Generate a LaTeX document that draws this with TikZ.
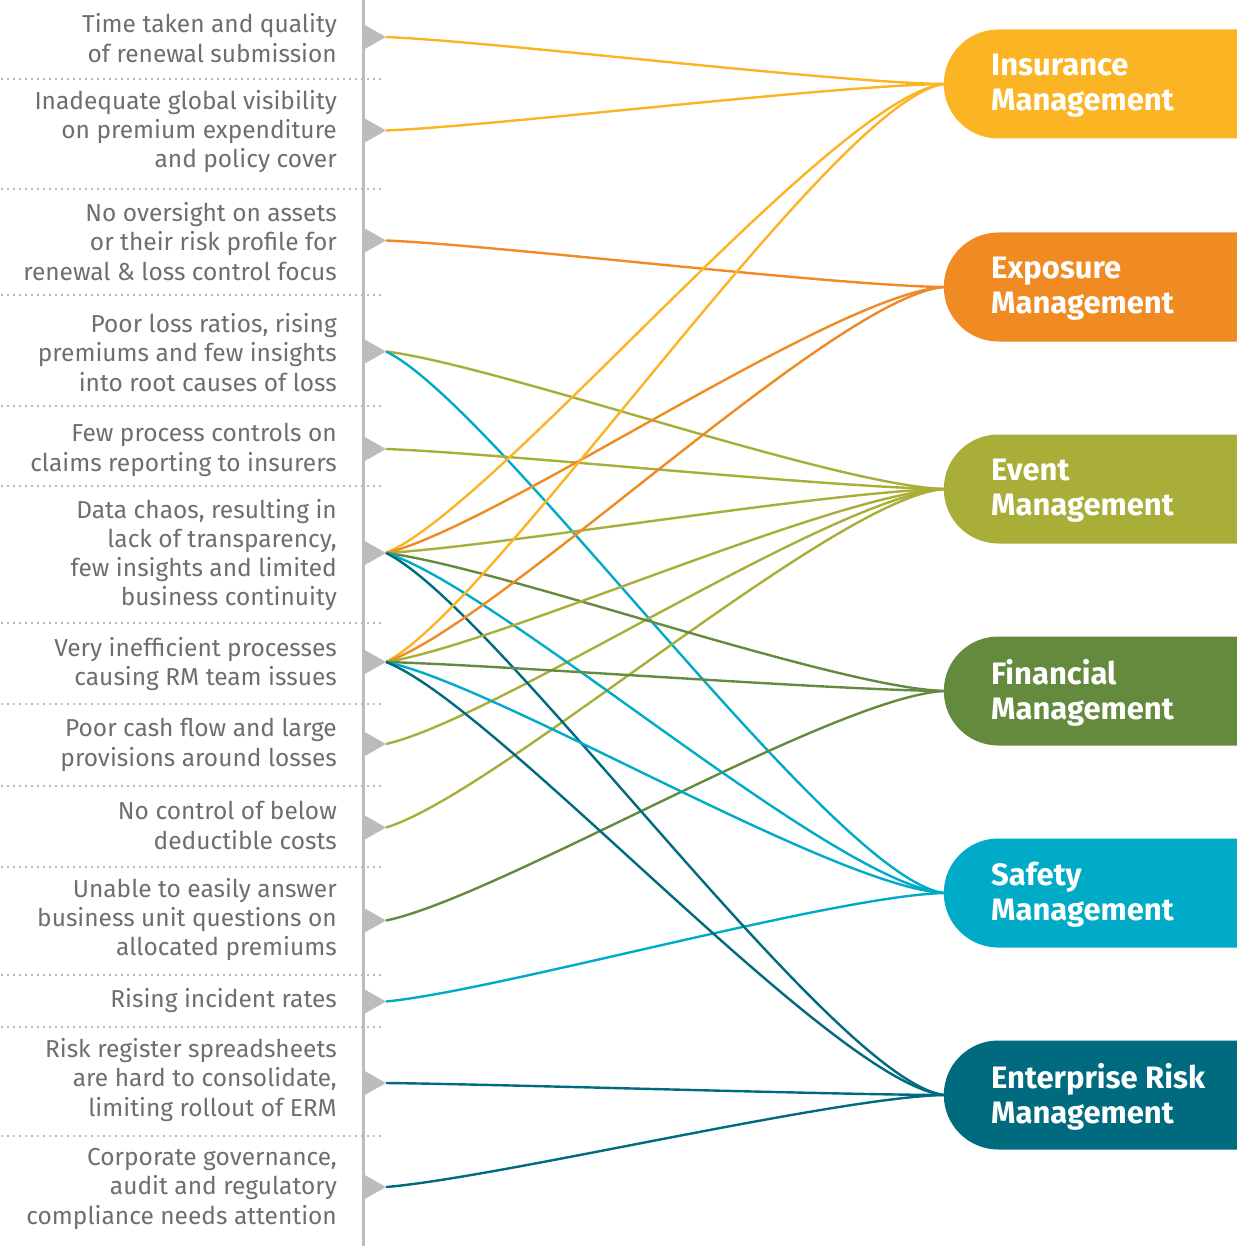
\documentclass[tikz,border=0pt]{standalone}
\usepackage{fontspec}
\setmainfont{Fira Sans}
\usetikzlibrary{calc,shapes.misc}
\definecolor{ins}{HTML}{FBB424}
\definecolor{exp}{HTML}{F08A22}
\definecolor{evt}{HTML}{A8AE38}
\definecolor{fin}{HTML}{648B3D}
\definecolor{saf}{HTML}{00ABC8}
\definecolor{erm}{HTML}{006A7F}
\definecolor{txtgray}{HTML}{6E6E6E}
\definecolor{rulegray}{HTML}{BDBCBB}
\newcommand\lnk[3]{%
  \path ($(#2)!0.2!(#3)$) coordinate (cA) ($(#2)!0.1!(#3)$) coordinate (cB)
        ($(#3)!0.2!(#2)$) coordinate (cC) ($(#3)!0.03!(#2)$) coordinate (cD);
  \draw[conn, #1] (#2) .. controls (cA |- cB) and (cC |- cD) .. (#3);}
\begin{document}
\begin{tikzpicture}[x=1pt,y=-1pt,
  conn/.style={line width=2.4pt},
  lbl/.style={anchor=east, align=right, inner sep=0pt, text=txtgray,
    font=\fontsize{24.5}{29.3}\selectfont},
  mbox/.style={rounded rectangle, rounded rectangle right arc=none,
    minimum height=109pt, minimum width=293pt, inner sep=0pt, anchor=east},
  mtxt/.style={anchor=west, align=left, inner sep=0pt, text=white,
    font=\fontsize{31}{35}\bfseries\selectfont},
  sep/.style={draw=rulegray, line width=1.8pt, dash pattern=on 1.8pt off 4.2pt},
  tri/.style={fill=rulegray}]
\useasboundingbox (0,0) rectangle (1237,1246);
% vertical rule
\draw[draw=rulegray, line width=2.7pt] (363.3,0) -- (363.3,1246);
% separators
\foreach \y in {79,189,295,406,486,623,704,786,867,975,1027,1136}
  \draw[sep] (1,\y) -- (382,\y);
% triangles and tips
\foreach \i/\y in {1/37,2/130.5,3/240.5,4/351.5,5/449,6/553,7/662,8/744,9/827.5,10/920.5,11/1001.5,12/1083,13/1187}{
  \fill[tri] (363,\y-13) -- (386,\y) -- (363,\y+13) -- cycle;
  \coordinate (t\i) at (386,\y);
}
% boxes
\node[mbox, fill=ins] (b1) at (1237,84) {};
\node[mbox, fill=exp] (b2) at (1237,287) {};
\node[mbox, fill=evt] (b3) at (1237,489) {};
\node[mbox, fill=fin] (b4) at (1237,691) {};
\node[mbox, fill=saf] (b5) at (1237,893) {};
\node[mbox, fill=erm] (b6) at (1237,1095) {};
\node[mtxt] (m1) at (991,85.5) {Insurance\\Management};
\node[mtxt] (m2) at (991,288.5) {Exposure\\Management};
\node[mtxt] (m3) at (991,490.5) {Event\\Management};
\node[mtxt] (m4) at (991,692.5) {Financial\\Management};
\node[mtxt] (m5) at (991,894.5) {Safety\\Management};
\node[mtxt] (m6) at (991,1096.5) {Enterprise Risk\\Management};
% connectors
\foreach \c/\a/\b in {ins/t1/b1,ins/t2/b1,exp/t3/b2,evt/t4/b3,saf/t4/b5,evt/t5/b3,
  evt/t8/b3,evt/t9/b3,fin/t10/b4,saf/t11/b5,erm/t12/b6,erm/t13/b6,
  ins/t6/b1,exp/t6/b2,evt/t6/b3,fin/t6/b4,saf/t6/b5,erm/t6/b6,
  ins/t7/b1,exp/t7/b2,evt/t7/b3,fin/t7/b4,saf/t7/b5,erm/t7/b6}
  {\lnk{\c}{\a}{\b.west}}
% labels
\node[lbl] (l1) at (337,38) {Time taken and quality\\of renewal submission};
\node[lbl] (l2) at (337,131.5) {Inadequate global visibility\\on premium expenditure\\and policy cover};
\node[lbl] (l3) at (337,241.5) {No oversight on assets\\or their risk profile for\\renewal \& loss control focus};
\node[lbl] (l4) at (337,352.5) {Poor loss ratios, rising\\premiums and few insights\\into root causes of loss};
\node[lbl] (l5) at (337,450) {Few process controls on\\claims reporting to insurers};
\node[lbl] (l6) at (337,555) {Data chaos, resulting in\\lack of transparency,\\few insights and limited\\business continuity};
\node[lbl] (l7) at (337,664) {Very inefficient processes\\causing RM team issues};
\node[lbl] (l8) at (337,745) {Poor cash flow and large\\provisions around losses};
\node[lbl] (l9) at (337,825.5) {No control of below\\deductible costs};
\node[lbl] (l10) at (337,919.5) {Unable to easily answer\\business unit questions on\\allocated premiums};
\node[lbl] (l11) at (337,1000.5) {Rising incident rates};
\node[lbl] (l12) at (337,1080) {Risk register spreadsheets\\are hard to consolidate,\\limiting rollout of ERM};
\node[lbl] (l13) at (337,1189) {Corporate governance,\\audit and regulatory\\compliance needs attention};
\end{tikzpicture}
\end{document}
